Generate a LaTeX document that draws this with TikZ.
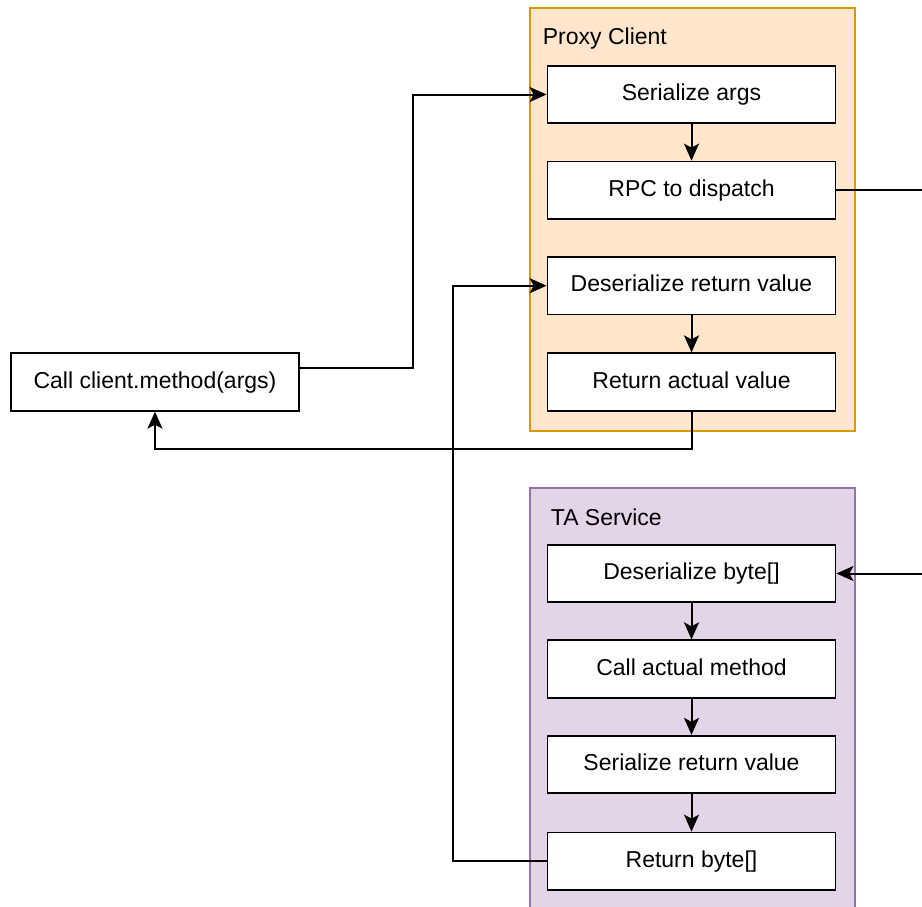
\documentclass[tikz,border=0pt]{standalone}
\usepackage{fontspec}
\setmainfont{Liberation Sans}
\usetikzlibrary{arrows.meta}

\definecolor{proxyfill}{HTML}{FFE6CC}
\definecolor{proxyline}{HTML}{D79B00}
\definecolor{svcfill}{HTML}{E1D5E7}
\definecolor{svcline}{HTML}{9673A6}

\tikzset{
  stepbox/.style={draw=black, fill=white, line width=1.8pt,
    minimum width=288pt, minimum height=57.5pt, inner sep=0pt,
    text height=17pt, text depth=5pt,
    font=\fontsize{23}{27}\selectfont},
  groupbox/.style={line width=1.8pt, anchor=north west, inner sep=0pt},
  grouplabel/.style={anchor=base west, inner sep=0pt, font=\fontsize{23}{27}\selectfont},
  flow/.style={draw=black, line width=2pt,
    -{Stealth[length=17pt, width=15pt, inset=4pt]}},
}

\begin{document}
\begin{tikzpicture}[x=1pt, y=-1pt]
\useasboundingbox (0,0) rectangle (922,906);
\clip (0,0) rectangle (922,906);

% group containers
\node[groupbox, draw=proxyline, fill=proxyfill,
      minimum width=325.5pt, minimum height=422.7pt] (proxy) at (528.7,7.3) {};
\node[grouplabel] (proxylbl) at (542.7,44.5) {Proxy Client};

\node[groupbox, draw=svcline, fill=svcfill,
      minimum width=325.5pt, minimum height=440pt] (svc) at (528.7,486.7) {};
\node[grouplabel] (svclbl) at (550.7,525) {TA Service};

% caller
\node[stepbox] (call) at (155,382) {Call client.method(args)};

% proxy client steps
\node[stepbox] (ser)  at (691.5,94.5)  {Serialize args};
\node[stepbox] (rpc)  at (691.5,190.3) {RPC to dispatch};
\node[stepbox] (dret) at (691.5,285.7) {Deserialize return value};
\node[stepbox] (ret)  at (691.5,382)   {Return actual value};

% service steps
\node[stepbox] (desb) at (691.5,573.5) {Deserialize byte[]};
\node[stepbox] (cam)  at (691.5,669)   {Call actual method};
\node[stepbox] (srv)  at (691.5,764.5) {Serialize return value};
\node[stepbox] (rb)   at (691.5,861.3) {Return byte[]};

% bend points of the routed connectors
\coordinate (b1) at (413,200);
\coordinate (b2) at (400,449.3);
\coordinate (b3) at (452.5,500);
\coordinate (b4) at (960,400);

% connectors
\draw[flow] ([yshift=14pt]call.east) -| (b1) |- (ser.west);
\draw[flow] (ser) -- (rpc);
\draw[flow] (dret) -- (ret);
\draw[flow] (ret.south) |- (b2) -| (call.south);
\draw[flow] (rpc.east) -| (b4) |- (desb.east);
\draw[flow] (desb) -- (cam);
\draw[flow] (cam) -- (srv);
\draw[flow] (srv) -- (rb);
\draw[flow] (rb.west) -| (b3) |- (dret.west);
\end{tikzpicture}
\end{document}
